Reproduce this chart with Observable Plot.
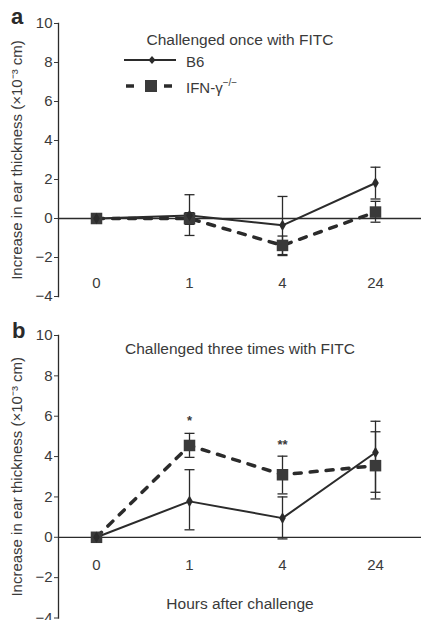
<!DOCTYPE html>
<html><head><meta charset="utf-8">
<script src="https://cdn.jsdelivr.net/npm/d3@7"></script>
<script src="https://cdn.jsdelivr.net/npm/@observablehq/plot@0.6"></script>
<style>
body{margin:0;background:#fff;font-family:"Liberation Sans",Arial,sans-serif;}
#fig{position:relative;width:421px;height:620px;overflow:hidden;}
#fig svg.plot{display:block;}
.plabel{position:absolute;font-weight:bold;font-size:22px;line-height:22px;color:#2a2a2a;}
#legend{position:absolute;left:0;top:0;}
</style></head>
<body><div id="fig"></div>
<script>
const hours = ["0", "1", "4", "24"];
const yTicks = [-4, -2, 0, 2, 4, 6, 8, 10];

// Panel a: challenged once
const b6OnceMean = [0, 0.15, -0.35, 1.82];
const b6OnceLo   = [0, -0.87, -1.85, 1.0];
const b6OnceHi   = [0, 1.22, 1.13, 2.63];
const ifnOnceMean = [0, 0.0, -1.38, 0.33];
const ifnOnceLo   = [0, -0.3, -1.9, -0.19];
const ifnOnceHi   = [0, 0.3, -0.9, 0.88];

// Panel b: challenged three times
const b6ThriceMean = [0, 1.78, 0.95, 4.2];
const b6ThriceLo   = [0, 0.37, -0.08, 2.23];
const b6ThriceHi   = [0, 3.35, 2.0, 5.75];
const ifnThriceMean = [0, 4.55, 3.1, 3.55];
const ifnThriceLo   = [0, 3.96, 2.15, 1.9];
const ifnThriceHi   = [0, 5.15, 4.02, 5.23];

const sigHours = ["1", "4"];
const sigY = [5.75, 4.6];
const sigText = ["*", "**"];

const yLabel = "Increase in ear thickness (×10⁻³ cm)";
const ink = "#2b2b2b";
const txt = "#3a3a3a";

const capSymbol = {draw(ctx) { ctx.moveTo(-5, 0); ctx.lineTo(5, 0); }};

function rows(mean, lo, hi) {
  return hours.map((h, i) => ({h, m: mean[i], lo: lo[i], hi: hi[i]}));
}

function errMarks(data) {
  const e = data.filter(d => d.hi !== d.lo);
  return [
    Plot.ruleX(e, {x: "h", y1: "lo", y2: "hi", stroke: ink, strokeWidth: 1.3}),
    Plot.dot(e, {x: "h", y: "lo", symbol: capSymbol, r: 5, stroke: ink, strokeWidth: 1.3, fill: "none"}),
    Plot.dot(e, {x: "h", y: "hi", symbol: capSymbol, r: 5, stroke: ink, strokeWidth: 1.3, fill: "none"})
  ];
}

function panel({b6, ifn, title, titleDy, marginTop, marginBottom, xdy, sig, xTitle}) {
  const marks = [
    Plot.ruleY([0], {stroke: ink, strokeWidth: 1.3}),
    Plot.frame({anchor: "left", stroke: ink, strokeWidth: 1.3}),
    Plot.axisY({ticks: yTicks, tickSize: 4, tickPadding: 2, fontSize: 15, color: txt,
      label: yLabel, labelAnchor: "center", labelArrow: false, labelOffset: 47}),
    Plot.axisX({tickSize: 0, dy: xdy, fontSize: 15, color: txt, label: null}),
    ...errMarks(ifn),
    ...errMarks(b6),
    Plot.line(ifn, {x: "h", y: "m", stroke: ink, strokeWidth: 3.5, strokeDasharray: "7,9"}),
    Plot.line(b6, {x: "h", y: "m", stroke: ink, strokeWidth: 2}),
    Plot.dot(ifn, {x: "h", y: "m", symbol: "square", r: 6.5, fill: "#3a3a3a", stroke: "none"}),
    Plot.dot(b6, {x: "h", y: "m", symbol: "diamond", r: 3.5, fill: ink, stroke: "none"}),
    Plot.text([title], {frameAnchor: "top", dy: titleDy, dx: 0, fontSize: 15.5, fill: txt})
  ];
  if (sig) {
    marks.push(Plot.text(sig, {x: "h", y: "y", text: "t", fontSize: 13, fontWeight: "bold", fill: txt}));
  }
  if (xTitle) {
    marks.push(Plot.text([xTitle], {frameAnchor: "bottom", dy: -9, fontSize: 15.5, fill: txt}));
  }
  return Plot.plot({
    width: 421, height: 310,
    marginLeft: 58, marginRight: 0, marginTop, marginBottom,
    style: {fontFamily: "'Liberation Sans', Arial, sans-serif", background: "transparent", overflow: "visible"},
    x: {type: "point", domain: hours, range: [95, 375], padding: 0, axis: null},
    y: {domain: [-4, 10], axis: null},
    marks
  });
}

const fig = document.getElementById("fig");
fig.appendChild(panel({
  b6: rows(b6OnceMean, b6OnceLo, b6OnceHi),
  ifn: rows(ifnOnceMean, ifnOnceLo, ifnOnceHi),
  title: "Challenged once with FITC", titleDy: 10,
  marginTop: 23, marginBottom: 14, xdy: -28
}));
fig.appendChild(panel({
  b6: rows(b6ThriceMean, b6ThriceLo, b6ThriceHi),
  ifn: rows(ifnThriceMean, ifnThriceLo, ifnThriceHi),
  title: "Challenged three times with FITC", titleDy: 7,
  marginTop: 25, marginBottom: 2.5, xdy: -68,
  sig: sigHours.map((h, i) => ({h, y: sigY[i], t: sigText[i]})),
  xTitle: "Hours after challenge"
}));

// panel letters
const la = document.createElement("div"); la.className = "plabel"; la.textContent = "a";
la.style.left = "11px"; la.style.top = "6px"; fig.appendChild(la);
const lb = document.createElement("div"); lb.className = "plabel"; lb.textContent = "b";
lb.style.left = "12px"; lb.style.top = "320px"; fig.appendChild(lb);

// legend
const legend = document.createElement("div");
legend.id = "legend";
legend.innerHTML = `<svg width="421" height="110" xmlns="http://www.w3.org/2000/svg" font-family="'Liberation Sans', Arial, sans-serif">
  <line x1="124" y1="60" x2="176" y2="60" stroke="${ink}" stroke-width="2"/>
  <path d="M152,56 L155.5,60 L152,64 L148.5,60 Z" fill="${ink}"/>
  <text x="186" y="67" font-size="15" fill="${txt}">B6</text>
  <line x1="126" y1="86" x2="134" y2="86" stroke="${ink}" stroke-width="3.5"/>
  <rect x="145" y="80" width="12" height="12" fill="${txt}"/>
  <line x1="164" y1="86" x2="172" y2="86" stroke="${ink}" stroke-width="3.5"/>
  <text x="186" y="93" font-size="15" fill="${txt}">IFN-γ<tspan dy="-7" font-size="10">−/−</tspan></text>
</svg>`;
fig.appendChild(legend);
</script>
</body></html>
